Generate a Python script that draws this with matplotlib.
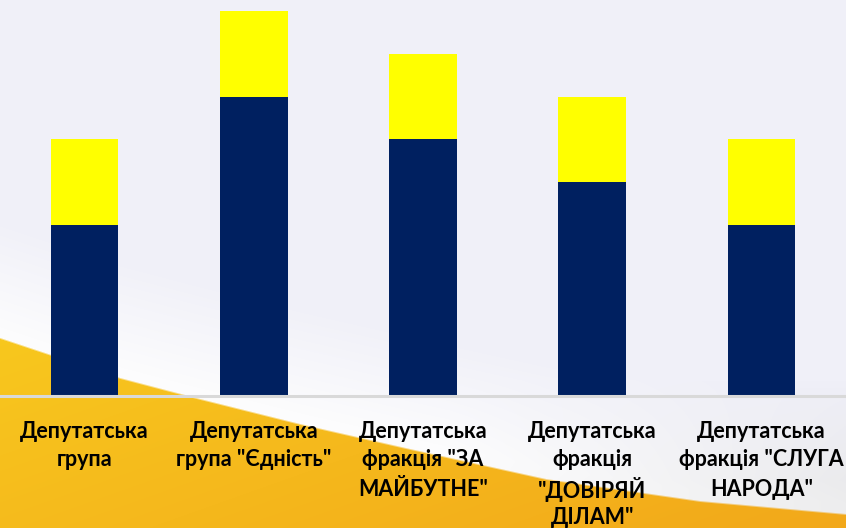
import numpy as np
import matplotlib.pyplot as plt

categories = [
    "Депутатська\nгрупа",
    "Депутатська\nгрупа \"Єдність\"",
    "Депутатська\nфракція \"ЗА\nМАЙБУТНЕ\"",
    "Депутатська\nфракція\n\"ДОВІРЯЙ\nДІЛАМ\"",
    "Депутатська\nфракція \"СЛУГА\nНАРОДА\"",
]
navy_vals = [4, 7, 6, 5, 4]
yellow_vals = [2, 2, 2, 2, 2]

W, H = 846, 528

# background: light lavender with a yellow swoosh at the bottom
yy, xx = np.mgrid[0:H, 0:W].astype(float)
edge = np.interp(xx[0], [0, 120, 200, 300, 410, 546, 700, 846],
                 [337, 377, 398, 423, 448, 478, 500, 513])
dist = yy - edge[None, :]

top = np.array([240, 240, 248]) / 255
white = np.array([252, 252, 253]) / 255
t = np.clip((dist + 120) / 110, 0, 1)[..., None]
bg = top * (1 - t) + white * t
# slight grey at the lower right of the light area
g = np.clip((xx - 450) / 400, 0, 1) * np.clip((yy - 380) / 100, 0, 1)
bg = bg * (1 - 0.06 * g[..., None])

y1 = np.array([248, 200, 30]) / 255
y2 = np.array([242, 168, 26]) / 255
s = np.clip((xx / W) * 0.6 + (yy - 330) / 200 * 0.4, 0, 1)[..., None]
yel = y1 * (1 - s) + y2 * s
m = np.clip(dist / 2.0, 0, 1)[..., None]
img = bg * (1 - m) + yel * m

fig = plt.figure(figsize=(W / 100, H / 100), dpi=100)
bax = fig.add_axes([0, 0, 1, 1])
bax.imshow(img, extent=[0, W, H, 0], aspect="auto", interpolation="bilinear")
bax.axis("off")

ax = fig.add_axes([0, 0.25, 1, 0.75])
ax.patch.set_alpha(0)
x = np.arange(len(categories))
ax.bar(x, navy_vals, width=0.4, color="#002060", zorder=3)
ax.bar(x, yellow_vals, width=0.4, bottom=navy_vals, color="#FFFF00", zorder=3)
ax.set_xlim(-0.5, len(categories) - 0.5)
ax.set_ylim(0, 9.26)
ax.axhline(0, color="#d9d9d9", lw=2.2, clip_on=False, zorder=4)

# category labels, one line at a time so the spacing stays even
axh = 0.75 * H
for i, lab in enumerate(categories):
    for k, line in enumerate(lab.split("\n")):
        ax.text(i, -(35 + 29 * k) / axh, line, transform=ax.get_xaxis_transform(),
                ha="center", va="center", fontsize=15.5, fontweight="bold",
                family=["Lato", "DejaVu Sans"], color="black")

ax.axis("off")
fig.savefig("out.png", dpi=100)
